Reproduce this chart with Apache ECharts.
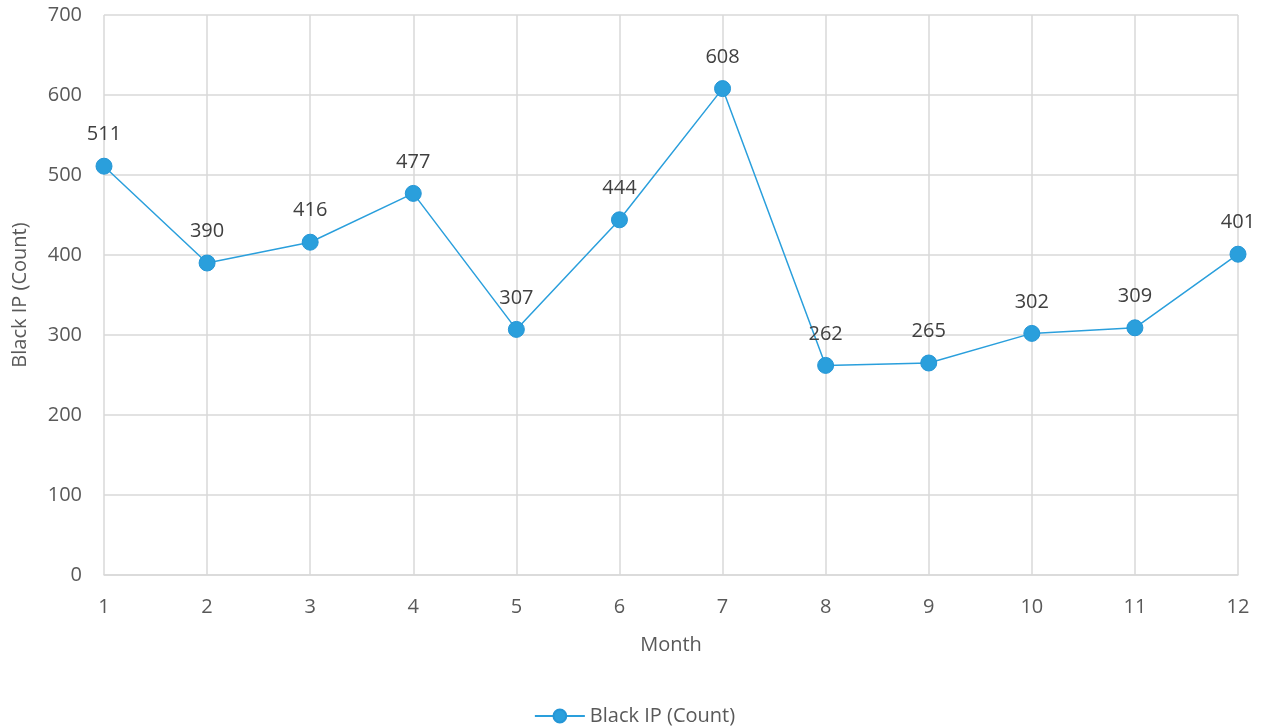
<!DOCTYPE html>
<html>
<head>
<meta charset="utf-8">
<style>
  html, body { margin: 0; padding: 0; background: #ffffff; }
  #chart { width: 1269px; height: 727px; }
</style>
<script src="https://cdn.jsdelivr.net/npm/echarts@6/dist/echarts.min.js"></script>
</head>
<body>
<div id="chart"></div>
<script>
const months = ['1', '2', '3', '4', '5', '6', '7', '8', '9', '10', '11', '12'];
const blackIpCounts = [511, 390, 416, 477, 307, 444, 608, 262, 265, 302, 309, 401];
const yTicks = { min: 0, max: 700, interval: 100 };

const FONT = "'Open Sans', 'Liberation Sans', sans-serif";
const TEXT = '#595959';
const GRID = '#d9d9d9';
const BLUE = '#2a9fdc';
const FS = 20;

const chart = echarts.init(document.getElementById('chart'));
chart.setOption({
  animation: false,
  backgroundColor: '#ffffff',
  textStyle: { fontFamily: FONT },
  grid: { left: 104, right: 31, top: 15, bottom: 152, containLabel: false },
  legend: {
    top: 701,
    left: 'center',
    itemWidth: 50,
    itemHeight: 16,
    itemGap: 8,
    textStyle: { color: TEXT, fontSize: FS, fontFamily: FONT },
    data: ['Black IP (Count)']
  },
  xAxis: {
    type: 'category',
    data: months,
    boundaryGap: false,
    name: 'Month',
    nameLocation: 'middle',
    nameGap: 60,
    nameTextStyle: { color: TEXT, fontSize: FS, fontFamily: FONT },
    axisLine: { show: true, lineStyle: { color: GRID, width: 1.5 } },
    axisTick: { show: false },
    axisLabel: { color: TEXT, fontSize: FS, margin: 22, fontFamily: FONT },
    splitLine: { show: true, lineStyle: { color: GRID, width: 1.5 } }
  },
  yAxis: {
    type: 'value',
    min: yTicks.min,
    max: yTicks.max,
    interval: yTicks.interval,
    name: 'Black IP (Count)',
    nameLocation: 'middle',
    nameGap: 74,
    nameRotate: 90,
    nameTextStyle: { color: TEXT, fontSize: FS, fontFamily: FONT },
    axisLine: { show: false },
    axisTick: { show: false },
    axisLabel: { color: TEXT, fontSize: FS, margin: 22, fontFamily: FONT },
    splitLine: { show: true, lineStyle: { color: GRID, width: 1.5 } }
  },
  series: [{
    name: 'Black IP (Count)',
    type: 'line',
    data: blackIpCounts,
    symbol: 'circle',
    symbolSize: 16,
    lineStyle: { color: BLUE, width: 1.5 },
    itemStyle: { color: BLUE, borderColor: '#2596d6', borderWidth: 1 },
    label: {
      show: true,
      position: 'top',
      distance: 13,
      color: '#404040',
      fontSize: FS,
      fontFamily: FONT
    }
  }]
});
</script>
</body>
</html>
